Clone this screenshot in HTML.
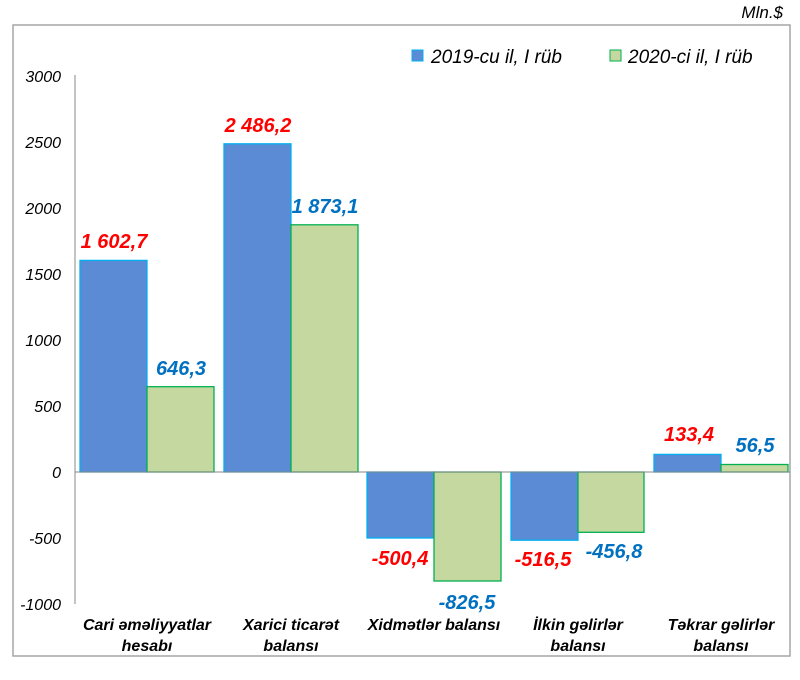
<!DOCTYPE html>
<html><head><meta charset="utf-8"><style>body{margin:0;background:#fff}svg{display:block}</style></head>
<body>
<svg width="800" height="680" xmlns="http://www.w3.org/2000/svg" font-family="Liberation Sans, Arial, sans-serif">
<rect x="13" y="25" width="777" height="631" fill="#fff" stroke="#a6a6a6" stroke-width="1.5"/>
<text x="783" y="18" font-size="17" font-style="italic" text-anchor="end">Mln.$</text>
<rect x="412" y="50" width="11" height="11" fill="#5b8bd5" stroke="#00b0f0"/>
<text x="431" y="63" font-size="19" font-style="italic">2019-cu il, I rüb</text>
<rect x="610" y="50" width="11" height="11" fill="#c4d8a0" stroke="#00b050"/>
<text x="628" y="63" font-size="19" font-style="italic">2020-ci il, I rüb</text>
<g font-size="16" font-style="italic" text-anchor="end">
<text x="61" y="82">3000</text><text x="61" y="148">2500</text><text x="61" y="214">2000</text>
<text x="61" y="280">1500</text><text x="61" y="346">1000</text><text x="61" y="412">500</text>
<text x="61" y="478">0</text><text x="61" y="544">-500</text><text x="61" y="610">-1000</text>
</g>
<line x1="75" y1="75" x2="75" y2="604" stroke="#888" stroke-width="1"/>
<g stroke-width="1.3">
<rect x="80" y="260.4" width="67" height="211.6" fill="#5b8bd5" stroke="#00b0f0"/>
<rect x="147" y="386.7" width="67" height="85.3" fill="#c4d8a0" stroke="#00b050"/>
<rect x="224" y="143.8" width="67" height="328.2" fill="#5b8bd5" stroke="#00b0f0"/>
<rect x="291" y="224.8" width="67" height="247.2" fill="#c4d8a0" stroke="#00b050"/>
<rect x="367" y="472" width="67" height="66" fill="#5b8bd5" stroke="#00b0f0"/>
<rect x="434" y="472" width="67" height="109" fill="#c4d8a0" stroke="#00b050"/>
<rect x="511" y="472" width="67" height="68.2" fill="#5b8bd5" stroke="#00b0f0"/>
<rect x="578" y="472" width="66" height="60.3" fill="#c4d8a0" stroke="#00b050"/>
<rect x="654" y="454.4" width="67" height="17.6" fill="#5b8bd5" stroke="#00b0f0"/>
<rect x="721" y="464.5" width="67" height="7.5" fill="#c4d8a0" stroke="#00b050"/>
</g>
<line x1="75" y1="472" x2="790" y2="472" stroke="#888" stroke-width="1"/>
<g font-size="20" font-weight="bold" font-style="italic" text-anchor="middle">
<text x="114" y="248" fill="#ff0000">1 602,7</text>
<text x="181" y="375" fill="#0070c0">646,3</text>
<text x="258" y="132" fill="#ff0000">2 486,2</text>
<text x="325" y="213" fill="#0070c0">1 873,1</text>
<text x="400" y="565" fill="#ff0000">-500,4</text>
<text x="467" y="609" fill="#0070c0">-826,5</text>
<text x="543" y="566" fill="#ff0000">-516,5</text>
<text x="614" y="558" fill="#0070c0">-456,8</text>
<text x="689" y="441" fill="#ff0000">133,4</text>
<text x="755" y="452" fill="#0070c0">56,5</text>
</g>
<g font-size="16" font-weight="bold" font-style="italic" text-anchor="middle">
<text x="147" y="630">Cari əməliyyatlar</text><text x="147" y="651">hesabı</text>
<text x="291" y="630">Xarici ticarət</text><text x="291" y="651">balansı</text>
<text x="434" y="630">Xidmətlər balansı</text>
<text x="578" y="630">İlkin gəlirlər</text><text x="578" y="651">balansı</text>
<text x="721" y="630">Təkrar gəlirlər</text><text x="721" y="651">balansı</text>
</g>
</svg>
</body></html>
